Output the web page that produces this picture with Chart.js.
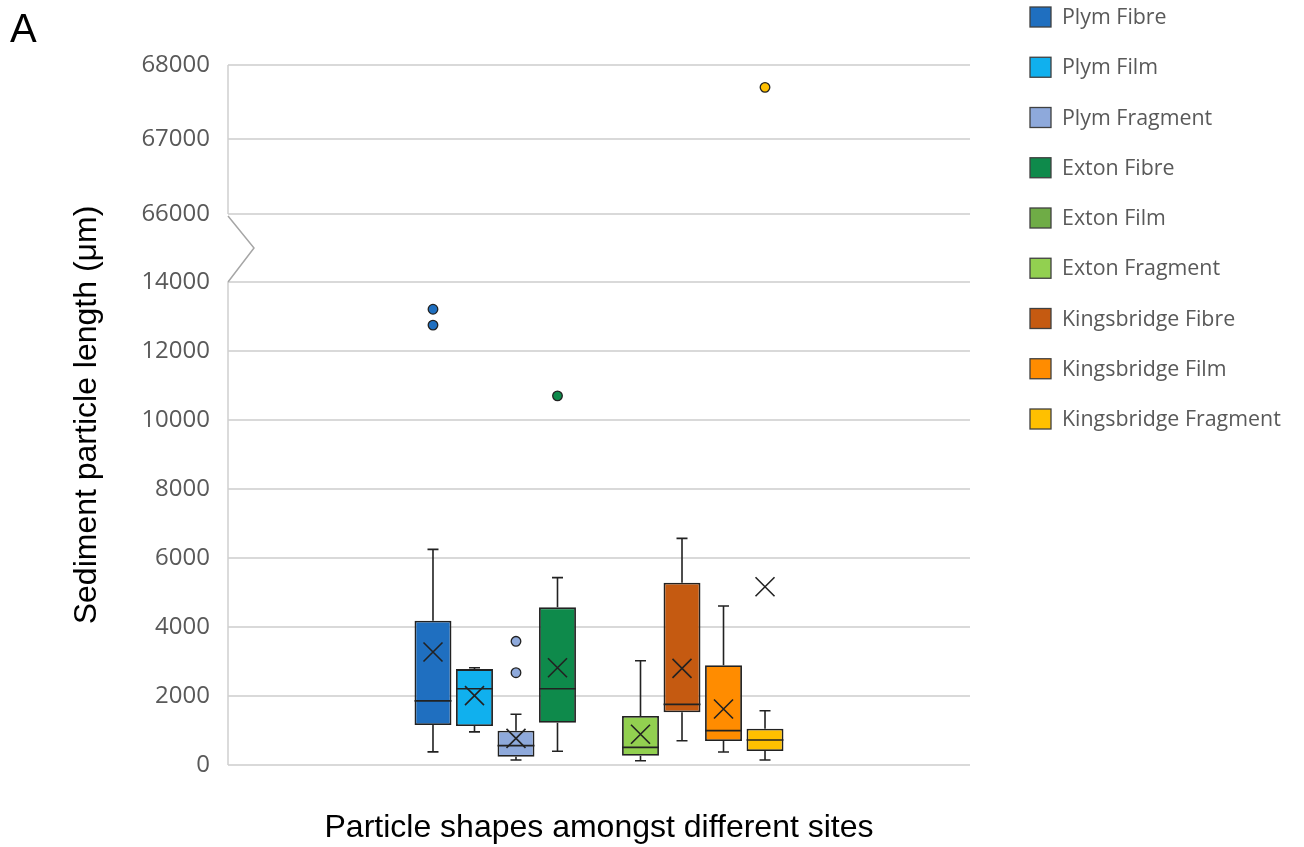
<!DOCTYPE html>
<html><head><meta charset="utf-8">
<script src="https://cdn.jsdelivr.net/npm/chart.js@4.4.1/dist/chart.umd.min.js"></script>
<style>html,body{margin:0;padding:0;background:#fff;} #wrap{width:1304px;height:847px;position:relative;}</style>
</head><body><div id="wrap"><canvas id="c" width="1304" height="847"></canvas></div>
<script>
// ---------- data ----------
const categories = [''];
const seriesNames = ['Plym Fibre','Plym Film','Plym Fragment','Exton Fibre','Exton Film','Exton Fragment','Kingsbridge Fibre','Kingsbridge Film','Kingsbridge Fragment'];
const whiskerMin = [380, 960, 145, 400, null, 125, 705, 377, 145];
const quartile1  = [1160, 1130, 241, 1226, null, 270, 1527, 696, 406];
const medians    = [1860, 2210, 560, 2210, null, 513, 1759, 994, 725];
const quartile3  = [4180, 2780, 994, 4570, null, 1420, 5284, 2890, 1052];
const whiskerMax = [6250, 2820, 1470, 5430, null, 3020, 6570, 4610, 1574];
const means      = [3275, 2010, 773, 2820, null, 890, 2802, 1623, 5168];
const outliers   = [[13210, 12750], [], [3585, 2675], [10700], [], [], [], [], [67700]];
const yTickLabels = [0, 2000, 4000, 6000, 8000, 10000, 12000, 14000, 66000, 67000, 68000];
const axisBreakLow = 14000, axisBreakHigh = 66000, axisMax = 68000;

// ---------- styles ----------
const seriesColors = ['#1F6FC0','#10B0EE','#8EA9DB','#0E8A4B','#6FAC46','#92D050','#C55A11','#FF8C00','#FFC000'];
const edgeColor = '#222222';

// ---------- broken y scale ----------
const GAP_UNITS = 1971, HIGH_STRETCH = 2.159;
function toAxisUnits(v){ return v <= axisBreakLow ? v : axisBreakLow + GAP_UNITS + (v - axisBreakHigh) * HIGH_STRETCH; }
function fromAxisUnits(a){
  if (a <= axisBreakLow) return a;
  if (a < axisBreakLow + GAP_UNITS) return axisBreakLow;
  return axisBreakHigh + (a - axisBreakLow - GAP_UNITS) / HIGH_STRETCH;
}
class BrokenLinearScale extends Chart.LinearScale {
  determineDataLimits(){ this.min = toAxisUnits(0); this.max = toAxisUnits(axisMax); }
  buildTicks(){ return yTickLabels.map(v => ({value: v})); }
  getPixelForValue(value){
    if (value === null || value === undefined || isNaN(value)) return NaN;
    return super.getPixelForValue(toAxisUnits(value));
  }
  getValueForPixel(pixel){ return fromAxisUnits(super.getValueForPixel(pixel)); }
}
BrokenLinearScale.id = 'brokenLinear';
BrokenLinearScale.defaults = Chart.LinearScale.defaults;
Chart.register(BrokenLinearScale);

// ---------- plugins ----------
const whiskerPlugin = {
  id: 'whiskers',
  beforeDatasetsDraw(chart){
    const ctx = chart.ctx, y = chart.scales.y;
    chart.data.datasets.forEach((ds, i) => {
      const bar = chart.getDatasetMeta(i).data[0];
      if (!bar || medians[i] == null) return;
      const x = bar.x, cap = 5.5;
      ctx.save();
      ctx.strokeStyle = edgeColor; ctx.lineWidth = 1.6;
      ctx.beginPath();
      const pMax = y.getPixelForValue(whiskerMax[i]), pMin = y.getPixelForValue(whiskerMin[i]);
      ctx.moveTo(x, y.getPixelForValue(quartile3[i])); ctx.lineTo(x, pMax);
      ctx.moveTo(x - cap, pMax); ctx.lineTo(x + cap, pMax);
      ctx.moveTo(x, y.getPixelForValue(quartile1[i])); ctx.lineTo(x, pMin);
      ctx.moveTo(x - cap, pMin); ctx.lineTo(x + cap, pMin);
      ctx.stroke();
      ctx.restore();
    });
  },
  afterDatasetsDraw(chart){
    const ctx = chart.ctx, y = chart.scales.y;
    chart.data.datasets.forEach((ds, i) => {
      const bar = chart.getDatasetMeta(i).data[0];
      if (!bar || medians[i] == null) return;
      const x = bar.x, hw = bar.width / 2;
      ctx.save();
      ctx.strokeStyle = edgeColor; ctx.lineWidth = 1.7;
      const pm = y.getPixelForValue(medians[i]);
      ctx.beginPath(); ctx.moveTo(x - hw, pm); ctx.lineTo(x + hw, pm); ctx.stroke();
      const my = y.getPixelForValue(means[i]), s = 9.5;
      ctx.lineWidth = 1.6;
      ctx.beginPath();
      ctx.moveTo(x - s, my - s); ctx.lineTo(x + s, my + s);
      ctx.moveTo(x + s, my - s); ctx.lineTo(x - s, my + s);
      ctx.stroke();
      outliers[i].forEach(v => {
        const oy = y.getPixelForValue(v);
        ctx.beginPath(); ctx.arc(x, oy, 4.8, 0, Math.PI * 2);
        ctx.fillStyle = seriesColors[i]; ctx.fill();
        ctx.lineWidth = 1.3; ctx.stroke();
      });
      ctx.restore();
    });
  }
};

const decorPlugin = {
  id: 'decor',
  afterDraw(chart){
    const ctx = chart.ctx, y = chart.scales.y, area = chart.chartArea;
    const L = area.left;
    const p0 = y.getPixelForValue(0), pLow = y.getPixelForValue(axisBreakLow);
    const pHigh = y.getPixelForValue(axisBreakHigh), pTop = y.getPixelForValue(axisMax);
    ctx.save();
    ctx.strokeStyle = '#d0d0d0'; ctx.lineWidth = 1.5;
    ctx.beginPath();
    ctx.moveTo(L, p0); ctx.lineTo(L, pLow);
    ctx.moveTo(L, pTop); ctx.lineTo(L, pHigh);
    ctx.stroke();
    ctx.strokeStyle = '#a6a6a6';
    ctx.beginPath();
    ctx.moveTo(L, pHigh + 2); ctx.lineTo(L + 26, (pHigh + pLow) / 2); ctx.lineTo(L, pLow);
    ctx.stroke();
    // panel letter
    ctx.fillStyle = '#000'; ctx.font = '40px "Liberation Sans", Arial, sans-serif';
    ctx.textBaseline = 'alphabetic'; ctx.textAlign = 'left';
    ctx.fillText('A', 10, 42);
    // legend
    ctx.font = '21.4px "Open Sans", sans-serif';
    ctx.textBaseline = 'middle';
    chart.data.datasets.forEach((ds, i) => {
      const cy = 17 + i * 50.25;
      ctx.fillStyle = seriesColors[i];
      ctx.fillRect(1030, cy - 10, 21, 20);
      ctx.strokeStyle = '#404040'; ctx.lineWidth = 1.3;
      ctx.strokeRect(1030, cy - 10, 21, 20);
      ctx.fillStyle = '#595959';
      ctx.fillText(ds.label, 1062, cy + 1);
    });
    ctx.restore();
  }
};

// ---------- chart ----------
const datasets = seriesNames.map((name, i) => ({
  label: name,
  data: [medians[i] == null ? null : [quartile1[i], quartile3[i]]],
  backgroundColor: seriesColors[i],
  borderColor: edgeColor,
  borderWidth: 1.8,
  borderSkipped: false,
  categoryPercentage: 0.5034,
  barPercentage: 0.89
}));

new Chart(document.getElementById('c'), {
  type: 'bar',
  data: { labels: categories, datasets },
  options: {
    responsive: false,
    animation: false,
    devicePixelRatio: 1,
    layout: { padding: { left: 0, top: 65, right: 334, bottom: 0 } },
    plugins: { legend: { display: false }, tooltip: { enabled: false } },
    scales: {
      x: {
        type: 'category',
        grid: { display: false },
        border: { display: false },
        ticks: { display: false },
        title: { display: true, text: 'Particle shapes amongst different sites',
                 color: '#000', font: { family: '"Liberation Sans", Arial, sans-serif', size: 32 },
                 padding: { top: 0, bottom: 0 } },
        afterFit(s){ s.height = 82; }
      },
      y: {
        type: 'brokenLinear',
        grid: { color: '#d9d9d9', lineWidth: 2, drawTicks: false },
        border: { display: false },
        ticks: { color: '#595959', padding: 18, font: { family: '"Open Sans", sans-serif', size: 24 },
                 callback: v => String(v) },
        title: { display: true, text: 'Sediment particle length (μm)', color: '#000',
                 font: { family: '"Liberation Sans", Arial, sans-serif', size: 32 },
                 padding: { top: 68, bottom: 0 } },
        afterFit(s){ s.width = 228; }
      }
    }
  },
  plugins: [whiskerPlugin, decorPlugin]
});
</script></body></html>
